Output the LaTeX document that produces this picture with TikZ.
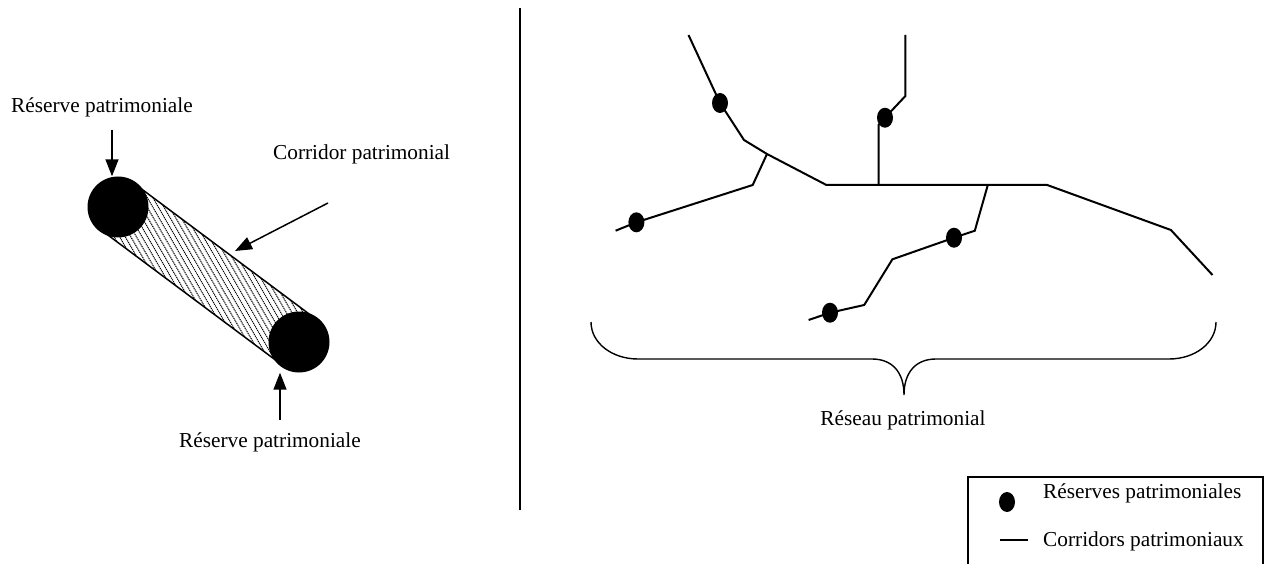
\documentclass[tikz,border=0pt]{standalone}
\usepackage{fontspec}
\setmainfont{Liberation Serif}
\usetikzlibrary{arrows.meta,shapes.geometric,calc}
\begin{document}
\begin{tikzpicture}[x=1pt,y=-1pt,
  lbl/.style={font=\fontsize{21.3}{25.6}\selectfont, inner sep=0pt},
  net/.style={line width=2pt, line join=miter},
  res/.style={ellipse, fill=black, minimum width=16pt, minimum height=20pt, inner sep=0pt},
  bigres/.style={circle, fill=black, minimum size=61pt, inner sep=0pt},
  ptr/.style={line width=1.5pt, -{Triangle[width=13pt,length=17pt]}},
  edge/.style={line width=1.5pt},
  hatch/.style={line width=1pt, dash pattern=on 1.2pt off 0.8pt},
]
\useasboundingbox (0,0) rectangle (1269,564);

% ---------- left part: corridor between two reserves ----------
\coordinate (c1) at (118,207);
\coordinate (c2) at (299,342);
\coordinate (u1) at (135,184.1);
\coordinate (u2) at (316,319.1);
\coordinate (l1) at (101,229.9);
\coordinate (l2) at (282,364.9);
\begin{scope}
  \clip (u1) -- (u2) -- (l2) -- (l1) -- cycle;
  \foreach \k in {-40,...,40}
    \draw[hatch] ($(208.5,274.5)+(\k*4.2,-\k*2.4)+(-100,-173)$) -- ($(208.5,274.5)+(\k*4.2,-\k*2.4)+(100,173)$);
\end{scope}
\draw[edge] (u1) -- (u2);
\draw[edge] (l1) -- (l2);
\node[bigres] (big1) at (c1) {};
\node[bigres] (big2) at (c2) {};

\node[lbl, anchor=base west] (t1) at (11,113) {Réserve patrimoniale};
\node[lbl, anchor=base west] (t2) at (273,160) {Corridor patrimonial};
\node[lbl, anchor=base west] (t3) at (179,447) {Réserve patrimoniale};

\coordinate (a1s) at (112,130);
\draw[ptr] (a1s) -- (a1s |- big1.north);
\coordinate (a2s) at (328,203);
\coordinate (a2e) at (235,251);
\draw[ptr] (a2s) -- (a2e);
\coordinate (a3s) at (280,420);
\draw[ptr] (a3s) -- (a3s |- big2.south);

% ---------- separator ----------
\coordinate (s1) at (520,8);
\coordinate (s2) at (520,510);
\draw[line width=1.3pt] (s1) -- (s2);

% ---------- right part: network ----------
\node[res] (d1) at (720,103) {};
\node[res] (d2) at (636.4,222.3) {};
\node[res] (d3) at (885,117.7) {};
\node[res] (d4) at (954,237.7) {};
\node[res] (d5) at (830,312.7) {};

\coordinate (p1) at (688.5,35);
\coordinate (p2) at (744,140);
\coordinate (p3) at (767,154);
\coordinate (p4) at (826.4,185);
\coordinate (p5) at (878.5,185);
\coordinate (p6) at (987.8,185);
\coordinate (p7) at (1047.2,185);
\coordinate (p8) at (1170.9,230);
\coordinate (p9) at (1212.5,275);
\coordinate (q1) at (752.7,185);
\coordinate (q2) at (615.6,230.7);
\coordinate (v1) at (878.5,125);
\coordinate (v2) at (905.4,96);
\coordinate (v3) at (905.4,35);
\coordinate (w1) at (974.8,230.7);
\coordinate (w2) at (892.4,259.3);
\coordinate (w3) at (864.2,305);
\coordinate (w4) at (808.6,320);

\draw[net] (p1) -- (d1.center) -- (p2) -- (p3) -- (p4) -- (p5) -- (p6) -- (p7) -- (p8) -- (p9);
\draw[net] (p3) -- (q1) -- (d2.center) -- (q2);
\draw[net] (p5) -- (v1) -- (d3.center) -- (v2) -- (v3);
\draw[net] (p6) -- (w1) -- (d4.center) -- (w2) -- (w3) -- (d5.center) -- (w4);

% ---------- brace ----------
\coordinate (br1) at (591,322);
\coordinate (br2) at (638,359);
\coordinate (br3) at (872,359);
\coordinate (brt) at (904,395);
\coordinate (br4) at (936,359);
\coordinate (br5) at (1169,359);
\coordinate (br6) at (1216,322);
\draw[line width=1.4pt] (br1) .. controls (591,343) and (612,359) .. (br2) -- (br3)
  .. controls (892,359) and (904,372) .. (brt)
  .. controls (904,372) and (916,359) .. (br4) -- (br5)
  .. controls (1195,359) and (1216,343) .. (br6);
\node[lbl, anchor=base] (t4) at (903,425) {Réseau patrimonial};

% ---------- legend ----------
\coordinate (lg1) at (968,566);
\coordinate (lg2) at (968,477);
\coordinate (lg3) at (1263,477);
\coordinate (lg4) at (1263,566);
\draw[line width=1.3pt] (lg1) -- (lg2) -- (lg3) -- (lg4);
\node[res] (ld) at (1007,502) {};
\node[lbl, anchor=base west] (lt1) at (1043,498) {Réserves patrimoniales};
\coordinate (ll1) at (1000,540);
\coordinate (ll2) at (1028,540);
\draw[net] (ll1) -- (ll2);
\node[lbl, anchor=base west] (lt2) at (1043,546) {Corridors patrimoniaux};
\end{tikzpicture}
\end{document}
